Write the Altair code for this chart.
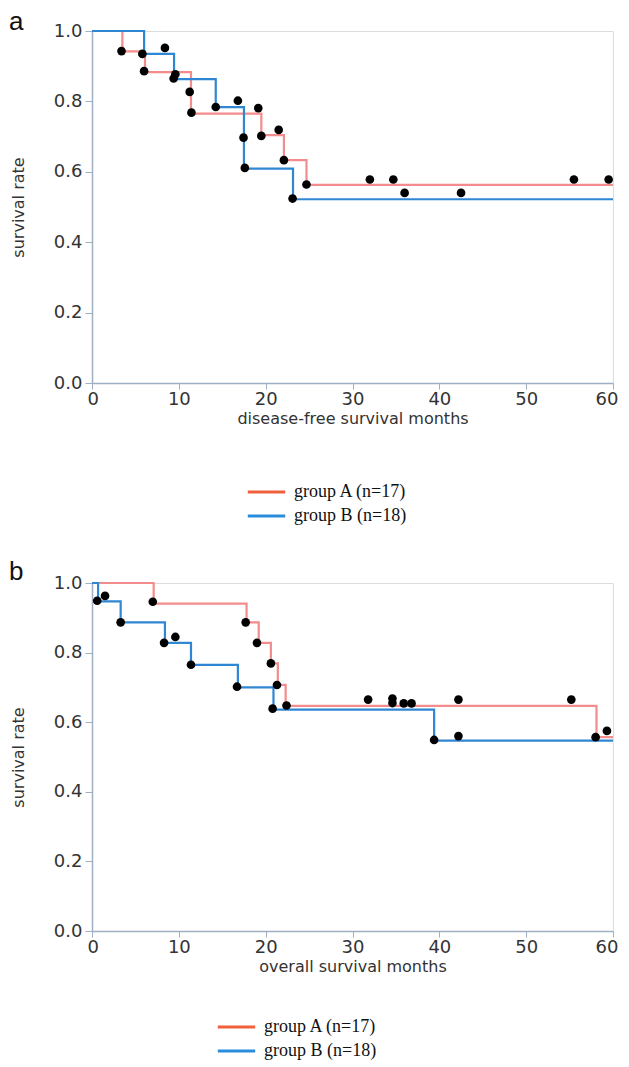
import altair as alt
import pandas as pd

GROUPS = ["group A (n=17)", "group B (n=18)"]
LINE_COLORS = ["#f38c8c", "#2f86d2"]
LEGEND_COLORS = ["#f0603c", "#2a8ddb"]

# Panel a: disease-free survival
a_A_time = [0, 3.5, 6.1, 11.4, 19.5, 22.1, 24.7, 60]
a_A_surv = [1.0, 0.942, 0.883, 0.765, 0.704, 0.633, 0.563, 0.563]
a_B_time = [0, 6.0, 9.45, 14.25, 17.5, 23.15, 60]
a_B_surv = [1.0, 0.935, 0.863, 0.784, 0.609, 0.522, 0.522]
a_dot_x = [3.4, 5.8, 8.4, 6.0, 9.6, 9.4, 11.25, 11.45, 14.25, 16.8, 19.15, 17.45,
           19.5, 21.5, 17.6, 22.1, 24.7, 23.1, 32.0, 34.7, 36.0, 42.5, 55.5, 59.5]
a_dot_y = [0.943, 0.935, 0.952, 0.886, 0.877, 0.865, 0.827, 0.768, 0.784, 0.802, 0.781, 0.697,
           0.702, 0.719, 0.611, 0.633, 0.564, 0.524, 0.578, 0.578, 0.540, 0.540, 0.578, 0.578]

# Panel b: overall survival
b_A_time = [0, 7.1, 17.8, 19.2, 20.6, 21.4, 22.3, 58.1, 60]
b_A_surv = [1.0, 0.941, 0.887, 0.828, 0.769, 0.707, 0.647, 0.557, 0.557]
b_B_time = [0, 0.7, 3.3, 8.4, 11.4, 16.8, 20.9, 39.4, 60]
b_B_surv = [1.0, 0.947, 0.887, 0.828, 0.765, 0.70, 0.636, 0.547, 0.547]
b_dot_x = [0.6, 1.5, 7.0, 3.3, 8.3, 9.6, 11.4, 17.7, 19.0, 20.6, 16.7, 20.8, 21.3, 22.4,
           31.8, 34.6, 34.6, 35.9, 36.8, 42.2, 55.2, 39.4, 42.2, 58.0, 59.3]
b_dot_y = [0.949, 0.963, 0.946, 0.887, 0.828, 0.845, 0.765, 0.887, 0.828, 0.769, 0.702, 0.639, 0.707, 0.648,
           0.665, 0.668, 0.655, 0.654, 0.654, 0.665, 0.665, 0.549, 0.560, 0.557, 0.575]

X_TICKS = [0, 10, 20, 30, 40, 50, 60]
Y_TICKS = [0.0, 0.1, 0.2, 0.3, 0.4, 0.5, 0.6, 0.7, 0.8, 0.9, 1.0]

AXIS_COLOR = "#9fb0c2"
FONT = "DejaVu Sans"


def panel(letter, letter_dy, At, As, Bt, Bs, dx, dy, xtitle, h, legX, legY):
    lines_df = pd.DataFrame(
        {"t": At + Bt, "s": As + Bs,
         "group": [GROUPS[0]] * len(At) + [GROUPS[1]] * len(Bt)}
    )
    dots_df = pd.DataFrame({"t": dx, "s": dy})
    leg_df = pd.DataFrame({"label": GROUPS})
    letter_df = pd.DataFrame({"letter": [letter]})

    xenc = alt.X("t:Q", scale=alt.Scale(domain=[0, 60], nice=False),
                 axis=alt.Axis(values=X_TICKS, title=xtitle, grid=False, tickSize=6,
                               labelFlush=True, labelFlushOffset=5,
                               labelFontSize=18, titleFontSize=16, labelFont=FONT, titleFont=FONT,
                               domainColor=AXIS_COLOR, tickColor=AXIS_COLOR, domainWidth=1.5,
                               labelColor="#333333", titleColor="#333333", titleFontWeight="normal",
                               titlePadding=2, labelPadding=1))
    yenc = alt.Y("s:Q", scale=alt.Scale(domain=[0, 1], nice=False),
                 axis=alt.Axis(values=Y_TICKS, title="survival rate", grid=False,
                               labelFlush=False,
                               tickSize={"condition": {"test": "round(datum.value*10) % 2 == 0", "value": 7}, "value": 4},
                               labelExpr="round(datum.value*10) % 2 == 0 ? format(datum.value, '.1f') : ''",
                               labelFontSize=18, titleFontSize=16, labelFont=FONT, titleFont=FONT,
                               domainColor=AXIS_COLOR, tickColor=AXIS_COLOR, domainWidth=1.5,
                               labelColor="#333333", titleColor="#333333", titleFontWeight="normal",
                               titlePadding=27, labelPadding=3))

    lines = alt.Chart(lines_df).mark_line(interpolate="step-after", strokeWidth=2.2).encode(
        x=xenc, y=yenc,
        color=alt.Color("group:N", scale=alt.Scale(domain=GROUPS, range=LINE_COLORS), legend=None),
        order=alt.Order("t:Q"),
    )
    pts = alt.Chart(dots_df).mark_circle(size=75, color="black", opacity=1).encode(
        x="t:Q", y="s:Q"
    )
    leg = alt.Chart(leg_df).mark_line().encode(
        x=alt.value(0), y=alt.value(0),
        color=alt.Color("label:N", scale=alt.Scale(domain=GROUPS, range=LEGEND_COLORS),
                        legend=alt.Legend(title=None, orient="none", legendX=legX, legendY=legY,
                                          symbolType="stroke", symbolSize=1400, symbolStrokeWidth=3,
                                          labelFont="Liberation Serif", labelFontSize=18,
                                          labelColor="#111111", labelOffset=7, padding=0,
                                          clipHeight=22, rowPadding=2, labelLimit=300)),
    )
    lab = alt.Chart(letter_df).mark_text(
        align="left", baseline="alphabetic", fontSize=26, font="Liberation Sans", color="#111111"
    ).encode(x=alt.value(-83), y=alt.value(letter_dy), text="letter:N")
    return alt.layer(lines, pts, leg, lab).resolve_scale(color="independent").properties(
        width=521, height=h,
    )


pa = panel("a", -1, a_A_time, a_A_surv, a_B_time, a_B_surv, a_dot_x, a_dot_y,
           "disease-free survival months", 352, 154, 450)
pb = panel("b", -3, b_A_time, b_A_surv, b_B_time, b_B_surv, b_dot_x, b_dot_y,
           "overall survival months", 348, 124, 433)

chart = alt.vconcat(pa, pb, spacing=30).configure_view(
    stroke="#b0b0b0", strokeWidth=1.5
).configure(background="white", padding={"left": 0, "top": 0, "right": 0, "bottom": 2})

chart.save("out.html", embed_options={"renderer": "svg", "actions": False})
